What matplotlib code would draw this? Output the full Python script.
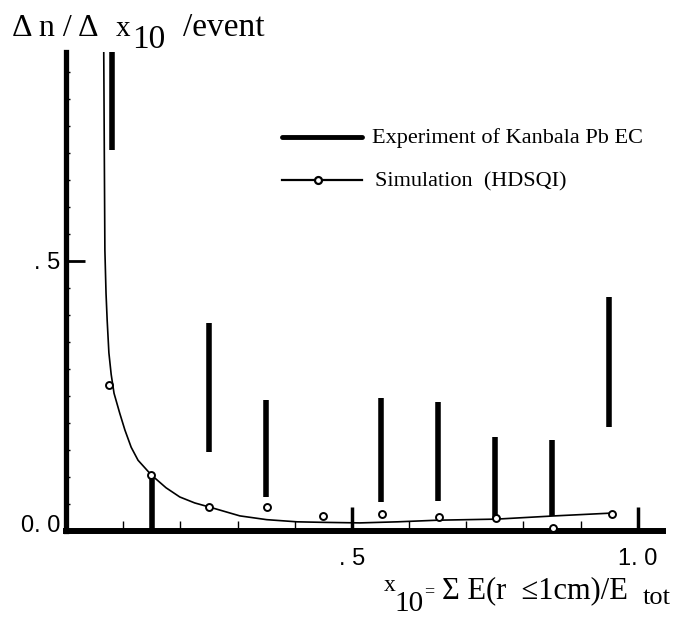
import matplotlib
matplotlib.use("Agg")
import matplotlib.pyplot as plt
import matplotlib.transforms as mtransforms
from matplotlib.ticker import FixedLocator

# experiment bars (vertical ranges)
exp_x = [0.08, 0.15, 0.25, 0.35, 0.55, 0.65, 0.75, 0.85, 0.95]
exp_lo = [0.705, 0.0, 0.146, 0.063, 0.054, 0.056, 0.02, 0.028, 0.193]
exp_hi = [1.0, 0.098, 0.385, 0.243, 0.246, 0.239, 0.174, 0.169, 0.433]

# simulation points
sim_x = [0.075, 0.149, 0.25, 0.351, 0.449, 0.552, 0.652, 0.752, 0.851, 0.955]
sim_y = [0.27, 0.104, 0.044, 0.044, 0.028, 0.031, 0.026, 0.024, 0.006, 0.031]

# hand drawn curve through the simulation
curve_x = [0.066, 0.067, 0.068, 0.070, 0.072, 0.075, 0.079, 0.084, 0.094, 0.103,
           0.114, 0.126, 0.149, 0.175, 0.199, 0.225, 0.252, 0.304, 0.351, 0.404,
           0.45, 0.514, 0.58, 0.65, 0.753, 0.855, 0.951]
curve_y = [0.89, 0.70, 0.52, 0.44, 0.39, 0.33, 0.29, 0.255, 0.218, 0.187,
           0.155, 0.131, 0.104, 0.08, 0.063, 0.052, 0.044, 0.028, 0.021, 0.017,
           0.016, 0.015, 0.017, 0.02, 0.022, 0.028, 0.033]

xticks = [0.5, 1.0]
xticklabels = [". 5", "1. 0"]
yticks = [0.0, 0.5]
yticklabels = ["0. 0", ". 5"]

W, H = 677, 617
fig = plt.figure(figsize=(W / 100, H / 100), dpi=100)
ax = fig.add_axes([66 / W, 1 - 531 / H, (663 - 66) / W, (531 - 52) / H])

serif = "Liberation Serif"
sans = "Liberation Sans"

ax.vlines(exp_x, exp_lo, exp_hi, color="black", lw=4.0, zorder=3)
ax.plot(curve_x, curve_y, color="black", lw=1.2, zorder=2)
ax.plot(sim_x, sim_y, "o", ms=5, mfc="white", mec="black", mew=1.4,
        zorder=4, clip_on=False)

ax.set_xlim(0, 1.044)
ax.set_ylim(0, 0.887)

for s in ["top", "right"]:
    ax.spines[s].set_visible(False)
ax.spines["left"].set_linewidth(3.8)
ax.spines["bottom"].set_linewidth(4.3)

ax.set_xticks(xticks)
ax.set_xticklabels(xticklabels, fontfamily=sans, fontsize=17)
ax.xaxis.set_minor_locator(FixedLocator([0.1, 0.2, 0.3, 0.4, 0.6, 0.7, 0.8, 0.9]))
ax.tick_params(axis="x", which="major", direction="in", length=17, width=2.5, pad=12)
ax.tick_params(axis="x", which="minor", direction="in", length=7, width=1)

ax.set_yticks(yticks)
ax.set_yticklabels(yticklabels, fontfamily=sans, fontsize=17)
ax.yaxis.set_minor_locator(FixedLocator([0.05 * i for i in range(1, 18) if i != 10]))
ax.tick_params(axis="y", which="major", direction="in", length=14, width=2, pad=4)
ax.tick_params(axis="y", which="minor", direction="in", length=3, width=1)
# the 0.0 label sits a little above the axis in the original
lab0 = ax.get_yticklabels()[0]
lab0.set_transform(lab0.get_transform() +
                   mtransforms.ScaledTranslation(0, 7 / 100, fig.dpi_scale_trans))


def ftext(x, y, s, size, **kw):
    # x, y in pixels from the top left
    fig.text(x / W, 1 - y / H, s, fontsize=size, va="baseline", **kw)


# y label
ftext(12, 36, "\u0394 n / \u0394", 23, fontfamily=serif)
ftext(116, 36, "x", 21, fontfamily=serif)
ftext(132, 48, "10", 24, fontfamily=serif)
ftext(183, 36, "/event", 24, fontfamily=serif)

# x label
ftext(384, 591, "x", 17, fontfamily=serif)
ftext(394, 611, "10", 21, fontfamily=serif)
ftext(424, 596, "=", 13, fontfamily=serif)
ftext(442, 598, "\u03a3 E(r  \u22641cm)/E", 22, fontfamily=serif)
ftext(643, 604, "tot", 19, fontfamily=serif)

# legend
ax.plot([282 / W, 362 / W], [1 - 137 / H, 1 - 137 / H], transform=fig.transFigure,
        color="black", lw=3.5, solid_capstyle="round")
ftext(372, 143, "Experiment of Kanbala Pb EC", 16, fontfamily=serif)
ax.plot([282 / W, 362 / W], [1 - 180 / H, 1 - 180 / H], transform=fig.transFigure,
        color="black", lw=1.6)
ax.plot([318 / W], [1 - 180 / H], "o", transform=fig.transFigure, ms=5,
        mfc="white", mec="black", mew=1.6)
ftext(375, 186, "Simulation  (HDSQI)", 16, fontfamily=serif)

fig.savefig("out.png", dpi=100)
